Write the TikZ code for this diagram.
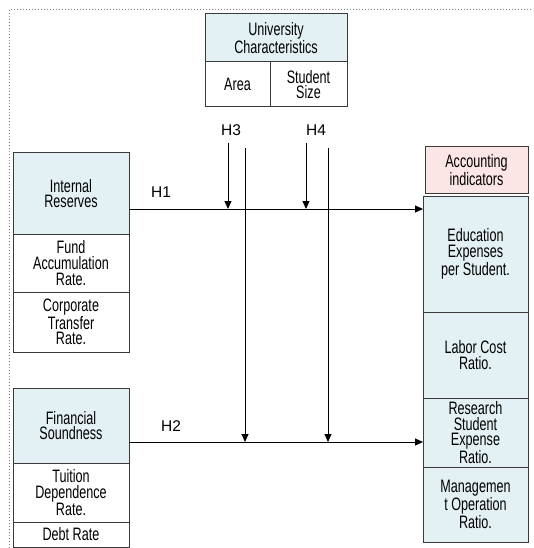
\documentclass[tikz,border=0pt]{standalone}
\usepackage{fontspec}
\setmainfont[FakeStretch=0.7]{Liberation Sans}
\newfontfamily\hfont{Liberation Sans}
\usetikzlibrary{arrows.meta,chains,positioning}
\definecolor{cellblue}{HTML}{E3F1F4}
\definecolor{cellpink}{HTML}{FBE5E5}
\definecolor{edge}{HTML}{3A3A3A}

\begin{document}
\begin{tikzpicture}[%
    x=1pt, y=-1pt,              % one unit is one pixel, y runs down
    >={Triangle[length=8pt,width=7pt]},
    node distance=0pt,          % cells of a stack touch
    ]
% -------------------------------------------------
% Cell styles
\tikzset{
  base/.style={draw=edge, line width=1pt, on chain, outer sep=0pt,
    inner sep=1pt, align=center,
    font=\fontsize{18}{15.8}\selectfont},
  lcell/.style={base, minimum width=116pt},
  rcell/.style={base, minimum width=105pt},
  head/.style={fill=cellblue},
  % Connector line styles
  norm/.style={->, draw=black, line width=1pt},
  hyp/.style={font=\hfont\fontsize{15.5}{16}\selectfont}
}
\useasboundingbox (0,0) rectangle (533,548);
\draw[gray, dotted, line width=1pt] (9,548) -- (9,10) -- (533,10);
% -------------------------------------------------
% University characteristics on top
\node [draw=edge, line width=1pt, outer sep=0pt, fill=cellblue,
  anchor=north west, minimum width=142pt, minimum height=48pt,
  align=center, inner sep=1pt, font=\fontsize{18}{15.8}\selectfont]
  (uc) at (205,14) {University\\Characteristics};
\begin{scope}[start chain=top going right]
\node [base, minimum width=65pt, minimum height=45pt,
  at={(uc.south west)}, anchor=north west] (area) {Area};
\node [base, minimum width=77pt, minimum height=45pt] (size) {Student\\Size};
\end{scope}
% -------------------------------------------------
% Internal reserves stack
\begin{scope}[start chain=irs going below]
\node [lcell, head, minimum height=81pt, at={(13,153)}, anchor=north west]
  (ir) {Internal\\Reserves};
\node [lcell, minimum height=58pt] (fund) {Fund\\Accumulation\\Rate.};
\node [lcell, minimum height=60pt] (corp) {Corporate\\Transfer\\Rate.};
\end{scope}
% Financial soundness stack
\begin{scope}[start chain=fss going below]
\node [lcell, head, minimum height=75pt, at={(13,388)}, anchor=north west]
  (fs) {Financial\\Soundness};
\node [lcell, minimum height=59pt] (tuit) {Tuition\\Dependence\\Rate.};
\node [lcell, minimum height=25pt] (debt) {Debt Rate};
\end{scope}
% -------------------------------------------------
% Accounting indicators
\node [draw=edge, line width=1pt, outer sep=0pt, fill=cellpink,
  anchor=north west, minimum width=103pt, minimum height=46pt,
  align=center, inner sep=1pt, font=\fontsize{18}{15.8}\selectfont]
  (acc) at (425,147) {Accounting\\indicators};
\begin{scope}[start chain=ais going below]
\node [rcell, head, minimum height=116pt, at={(423,196)}, anchor=north west]
  (edu) {Education\\Expenses\\per Student.};
\node [rcell, head, minimum height=86pt] (labor) {Labor Cost\\Ratio.};
\node [rcell, head, minimum height=69pt] (rsch) {Research\\Student\\Expense\\Ratio.};
\node [rcell, head, minimum height=75pt] (mgmt) {Managemen\\t Operation\\Ratio.};
\end{scope}
% -------------------------------------------------
% Hypothesis paths
\coordinate (h1line) at (0,209);
\coordinate (h2line) at (0,442);
\coordinate (h3top) at (228,143);
\coordinate (h4top) at (306,143);
\coordinate (v3top) at (245,148);
\coordinate (v4top) at (328,148);
\draw [norm] (ir.east |- h1line) -- (edu.west |- h1line);
\draw [norm] (fs.east |- h2line) -- (rsch.west |- h2line);
\draw [norm] (h3top) -- (h3top |- h1line);
\draw [norm] (h4top) -- (h4top |- h1line);
\draw [norm] (v3top) -- (v3top |- h2line);
\draw [norm] (v4top) -- (v4top |- h2line);
\node [hyp] (h1lab) at (161,192) {H1};
\node [hyp] (h2lab) at (171,426) {H2};
\node [hyp] (h3lab) at (231,130) {H3};
\node [hyp] (h4lab) at (316,130) {H4};
% -------------------------------------------------
\end{tikzpicture}
\end{document}
